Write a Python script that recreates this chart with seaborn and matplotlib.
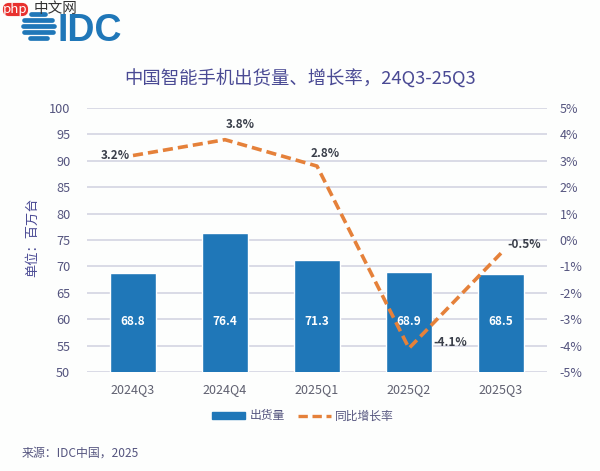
import matplotlib
matplotlib.use("Agg")
import matplotlib.pyplot as plt
from matplotlib.lines import Line2D
from matplotlib.patches import Patch, FancyBboxPatch
import pandas as pd
import seaborn as sns

quarters = ["2024Q3", "2024Q4", "2025Q1", "2025Q2", "2025Q3"]
shipments = [68.8, 76.4, 71.3, 68.9, 68.5]
growth = [3.2, 3.8, 2.8, -4.1, -0.5]
bar_labels = ["68.8", "76.4", "71.3", "68.9", "68.5"]
growth_labels = ["3.2%", "3.8%", "2.8%", "-4.1%", "-0.5%"]
left_ticks = [50, 55, 60, 65, 70, 75, 80, 85, 90, 95, 100]
right_ticks = [-5, -4, -3, -2, -1, 0, 1, 2, 3, 4, 5]

sns.set_theme(style="white")
plt.rcParams["font.family"] = ["Noto Sans CJK SC", "DejaVu Sans"]

BLUE = "#1f77b8"
ORANGE = "#e5813a"
TEXT = "#55557f"
W, H = 600, 471

df = pd.DataFrame({"quarter": quarters, "shipments": shipments})

fig = plt.figure(figsize=(6, 4.71), dpi=100, facecolor="#fdfefd")
ax = fig.add_axes([87 / W, 1 - 372 / H, 460 / W, 264 / H])
ax.set_facecolor("none")

sns.barplot(data=df, x="quarter", y="shipments", color=BLUE, saturation=1, width=0.5, ax=ax, zorder=3)
ax.set_ylim(50, 100)
ax.set_xlim(-0.5, 4.5)
ax.set_yticks(left_ticks)
ax.set_xlabel("")
ax.set_ylabel("单位：百万台", fontsize=9.5, color="#4a4a94", labelpad=7, y=0.51)
ax.tick_params(axis="x", labelsize=9, colors="#5f6070", length=0, pad=8)
ax.tick_params(axis="y", labelsize=9.2, colors=TEXT, length=0, pad=12)
ax.grid(axis="y", color="#d3d5e2", linewidth=1.2, zorder=0)
ax.set_axisbelow(True)
sns.despine(ax=ax, left=True, right=True, top=True, bottom=True)

for i, label in enumerate(bar_labels):
    ax.text(i, 59.5, label, ha="center", va="center", color="white", fontsize=8.5, fontweight="bold", zorder=5)

ax2 = ax.twinx()
ax2.set_ylim(-5, 5)
ax2.set_yticks(right_ticks)
ax2.set_yticklabels([f"{t}%" for t in right_ticks])
ax2.tick_params(axis="y", labelsize=9, colors=TEXT, length=0, pad=9)
ax2.grid(False)
sns.despine(ax=ax2, left=True, right=True, top=True, bottom=True)
sns.lineplot(x=list(range(5)), y=growth, color=ORANGE, linewidth=2.6, linestyle=(0, (2.8, 1.4)), ax=ax2, zorder=6)

offsets = [(-13, 0), (11, 11), (6, 9), (30, 4), (17, 6)]
for i, label in enumerate(growth_labels):
    ax2.annotate(label, (i, growth[i]), xytext=offsets[i], textcoords="offset points", ha="center", va="center",
                 fontsize=8.5, fontweight="bold", color="#3a3f4a", zorder=7)

fig.text(300 / W, 1 - 79 / H, "中国智能手机出货量、增长率，24Q3-25Q3", ha="center", va="center", fontsize=13.2, color="#4a4a94")

fig.legend(handles=[Patch(color=BLUE, label="出货量"),
                    Line2D([0], [0], color=ORANGE, linewidth=2.4, linestyle=(0, (2.8, 1.4)), label="同比增长率")],
           loc="center", bbox_to_anchor=(303 / W, 1 - 416 / H), ncol=2, frameon=False, fontsize=8.5,
           labelcolor=TEXT, handlelength=2.8, handleheight=0.55, columnspacing=1.1, handletextpad=0.35)

fig.text(22 / W, 1 - 453 / H, "来源：IDC中国，2025", ha="left", va="center", fontsize=8.6, color=TEXT)

# logo
logo = fig.add_axes([0, 0, 1, 1], facecolor="none")
logo.set_xlim(0, W)
logo.set_ylim(H, 0)
logo.axis("off")
for y, width in [(14, 14), (19.5, 28), (25.5, 31), (31.5, 29), (37.5, 17)]:
    logo.plot([38 - width / 2, 38 + width / 2], [y, y], color=BLUE, linewidth=3.4, solid_capstyle="round")
logo.text(58, 41, "IDC", fontsize=27, color=BLUE, ha="left", va="baseline", family="Liberation Sans", fontweight="bold")
# php watermark
logo.add_patch(FancyBboxPatch((5, 5), 21, 9, boxstyle="round,pad=0,rounding_size=4", facecolor="#e8322f", edgecolor="#e8322f", linewidth=3))
logo.text(15.5, 9.5, "php", color="white", fontsize=9.5, style="italic", ha="center", va="center")
logo.text(34, 8.5, "中文网", color="#333333", fontsize=10.5, ha="left", va="center")

fig.savefig("out.png", dpi=100)
